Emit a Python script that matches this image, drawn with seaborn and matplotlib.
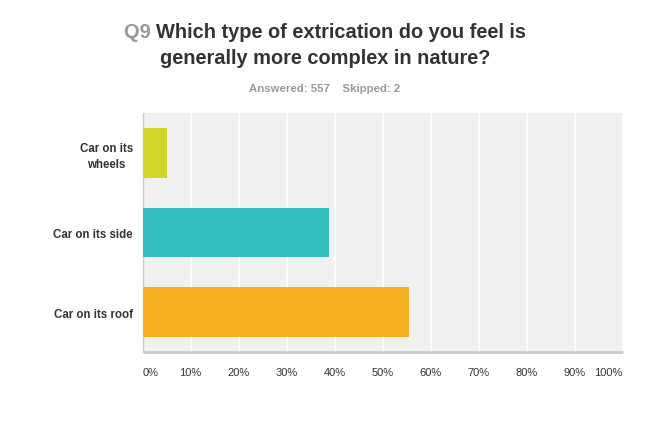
import matplotlib
matplotlib.use("Agg")
import matplotlib.pyplot as plt
import seaborn as sns
import pandas as pd

categories = ["Car on its\nwheels", "Car on its side", "Car on its roof"]
values = [5.0, 38.8, 55.5]
colors = ["#D1D52A", "#34BEBE", "#F6AF1F"]
ticks = [0, 10, 20, 30, 40, 50, 60, 70, 80, 90, 100]

sns.set_theme(style="white")
plt.rcParams['font.family'] = ['Liberation Sans', 'DejaVu Sans']

df = pd.DataFrame({"cat": categories, "val": values})

fig = plt.figure(figsize=(6.5, 4.27), dpi=100)
ax = fig.add_axes([142.7/650, 1-353/427, 480/650, (353-114)/427])
ax.set_facecolor("#F0F0F0")

sns.barplot(data=df, x="val", y="cat", hue="cat", palette=colors, orient="h",
            width=0.625, ax=ax, legend=False, saturation=1, zorder=3,
            linewidth=0, edgecolor="none")

ax.set_xlim(0, 100)
ax.set_ylim(2.5, -0.5)
ax.set_xticks(ticks)
ax.xaxis.grid(True, color="white", linewidth=1.2, zorder=0)
ax.set_axisbelow(True)
ax.set_xlabel("")
ax.set_ylabel("")
ax.set_xticklabels([f"{t}%" for t in ticks], fontsize=8, color="#333333")
labs = ax.get_xticklabels()
labs[0].set_ha("left")
labs[-1].set_ha("right")
ax.tick_params(axis="x", length=0, pad=11)
ax.tick_params(axis="y", length=0, pad=7)
for lab in ax.get_yticklabels():
    lab.set_fontweight("bold")
    lab.set_fontsize(8.3)
    lab.set_color("#333333")
    lab.set_multialignment("center")
    lab.set_linespacing(1.45)

for s in ["top", "right"]:
    ax.spines[s].set_visible(False)
ax.spines["left"].set_color("#CCCCCC")
ax.spines["left"].set_linewidth(1)
ax.spines["bottom"].set_color("#CCCCCC")
ax.spines["bottom"].set_linewidth(2)
ax.spines["bottom"].set_capstyle("butt")

# Title
fig.canvas.draw()
r = fig.canvas.get_renderer()
tsize = 14.4
y1 = 1 - 33/427
q = fig.text(0, y1, "Q9 ", fontsize=tsize, fontweight="bold", color="#999999", va="center", ha="left")
w = fig.text(0, y1, "Which type of extrication do you feel is", fontsize=tsize, fontweight="bold",
             color="#333333", va="center", ha="left")
qw = q.get_window_extent(r).width
ww = w.get_window_extent(r).width
total = qw + ww
x0 = (650 - total) / 2
q.set_x(x0/650)
w.set_x((x0+qw)/650)
fig.text(0.5, 1 - 58/427, "generally more complex in nature?", fontsize=tsize, fontweight="bold",
         color="#333333", va="center", ha="center")
fig.text(0.5, 1 - 89/427, "Answered: 557    Skipped: 2", fontsize=8.2, fontweight="bold",
         color="#999999", va="center", ha="center")

fig.savefig("out.png", dpi=100, facecolor="white")
